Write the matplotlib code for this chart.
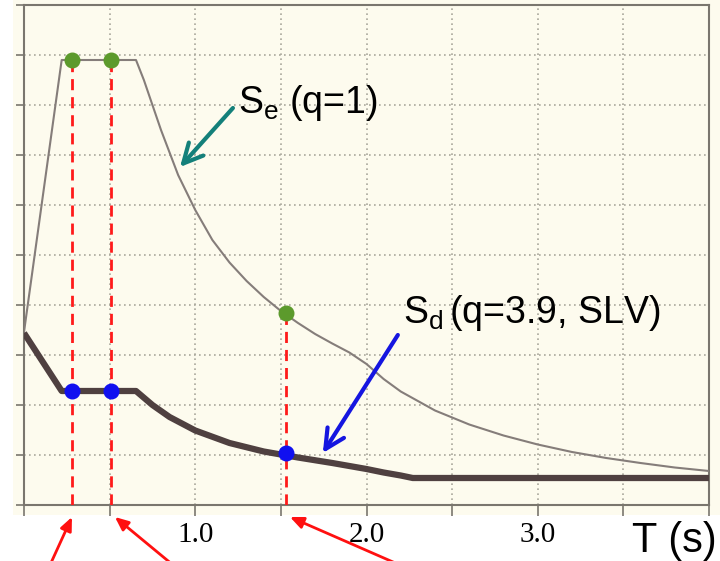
import matplotlib
matplotlib.use("Agg")
import matplotlib.pyplot as plt
from matplotlib.patches import Rectangle

plt.rcParams['font.family'] = ['Liberation Sans', 'DejaVu Sans']
plt.rcParams['mathtext.fontset'] = 'custom'
plt.rcParams['mathtext.rm'] = 'Liberation Sans'
plt.rcParams['mathtext.it'] = 'Liberation Sans'

# elastic spectrum Se (q=1)
se_T = [0, 0.22, 0.654, 0.7, 0.8, 0.9, 1.0, 1.1, 1.2, 1.3, 1.4, 1.5, 1.6, 1.7,
        1.8, 1.9, 2.0, 2.1, 2.2, 2.4, 2.6, 2.8, 3.0, 3.2, 3.4, 3.6, 3.8, 4.0]
se_val = [3.46, 8.9, 8.9, 8.5, 7.5, 6.6, 5.9, 5.3, 4.85, 4.48, 4.16, 3.88, 3.64, 3.42,
          3.23, 3.05, 2.82, 2.52, 2.27, 1.89, 1.61, 1.39, 1.21, 1.06, 0.94, 0.84, 0.75, 0.68]

# design spectrum Sd (q=3.9, SLV)
sd_T = [0, 0.22, 0.654, 0.75, 0.85, 1.0, 1.2, 1.4, 1.6, 1.8, 2.0, 2.1, 2.2, 2.27, 4.0]
sd_val = [3.44, 2.28, 2.28, 2.0, 1.76, 1.49, 1.24, 1.07, 0.95, 0.84, 0.72, 0.65, 0.59, 0.54, 0.54]

# marked periods
mark_T = [0.28, 0.51, 1.53]
mark_se = [8.9, 8.9, 3.84]
mark_sd = [2.28, 2.28, 1.04]

xtick_pos = [0, 0.5, 1.0, 1.5, 2.0, 2.5, 3.0, 3.5, 4.0]
xtick_lab = ['', '', '1.0', '', '2.0', '', '3.0', '', '']

cream = '#fdfbee'
spine_c = '#7a766e'

fig = plt.figure(figsize=(7.2, 5.61), dpi=100, facecolor='white')
fig.patches.append(Rectangle((13 / 720, 46 / 561), 1, 1, transform=fig.transFigure,
                             facecolor=cream, edgecolor='none', zorder=-5))
ax = fig.add_axes([24 / 720, 56 / 561, 685 / 720, 500 / 561])
ax.set_facecolor(cream)
ax.set_xlim(0, 4)
ax.set_ylim(0, 10)

ax.set_xticks(xtick_pos)
ax.set_xticklabels(xtick_lab, fontfamily='Liberation Serif', fontsize=21)
ax.set_yticks(range(11))
ax.set_yticklabels([])
ax.tick_params(axis='x', length=8, width=1.2, color=spine_c, pad=4)
ax.tick_params(axis='y', length=6, width=1.2, color=spine_c)
for s in ax.spines.values():
    s.set_color(spine_c)
    s.set_linewidth(1.5)
ax.grid(True, color='#aaa89c', linestyle=(0, (1, 2)), linewidth=1.2)

ax.plot(se_T, se_val, color='#857d7a', lw=1.5, zorder=3)
ax.plot(sd_T, sd_val, color='#4f4040', lw=4.5, zorder=3, solid_capstyle='butt')

for t, top in zip(mark_T, mark_se):
    ax.plot([t, t], [0, top], color='#ff1a1a', lw=2, linestyle=(0, (4, 2.5)), zorder=4)
ax.scatter(mark_T, mark_se, s=110, color='#5c9a2c', zorder=5)
ax.scatter(mark_T, mark_sd, s=110, color='#1010f0', zorder=5)

# labels
ax.text(1.249, 7.84, r'$\mathrm{S_e}$ (q=1)', fontsize=27, va='baseline', ha='left')
ax.text(2.213, 3.64, r'$\mathrm{S_d}\,$(q=3.9, SLV)', fontsize=27, va='baseline', ha='left')
ax.text(3.55, -0.94, 'T (s)', fontsize=30, va='baseline', ha='left', clip_on=False)

ax.annotate('', xy=(0.911, 6.76), xytext=(1.22, 7.94),
            arrowprops=dict(arrowstyle='->,head_length=1.4,head_width=0.7',
                            color='#14807a', lw=3, shrinkA=0, shrinkB=0))
ax.annotate('', xy=(1.745, 1.04), xytext=(2.183, 3.40),
            arrowprops=dict(arrowstyle='->,head_length=1.4,head_width=0.7',
                            color='#1515e0', lw=3, shrinkA=0, shrinkB=0))

red_tip = [(0.28, -0.24), (0.531, -0.24), (1.553, -0.24)]
red_tail = [(0.152, -1.2), (0.87, -1.2), (2.195, -1.2)]
for tip, tail in zip(red_tip, red_tail):
    ax.annotate('', xy=tip, xytext=tail, annotation_clip=False,
                arrowprops=dict(arrowstyle='-|>,head_length=0.8,head_width=0.35',
                                color='#ff1010', lw=2, shrinkA=0, shrinkB=0))

fig.savefig('out.png', dpi=100, facecolor=fig.get_facecolor())
